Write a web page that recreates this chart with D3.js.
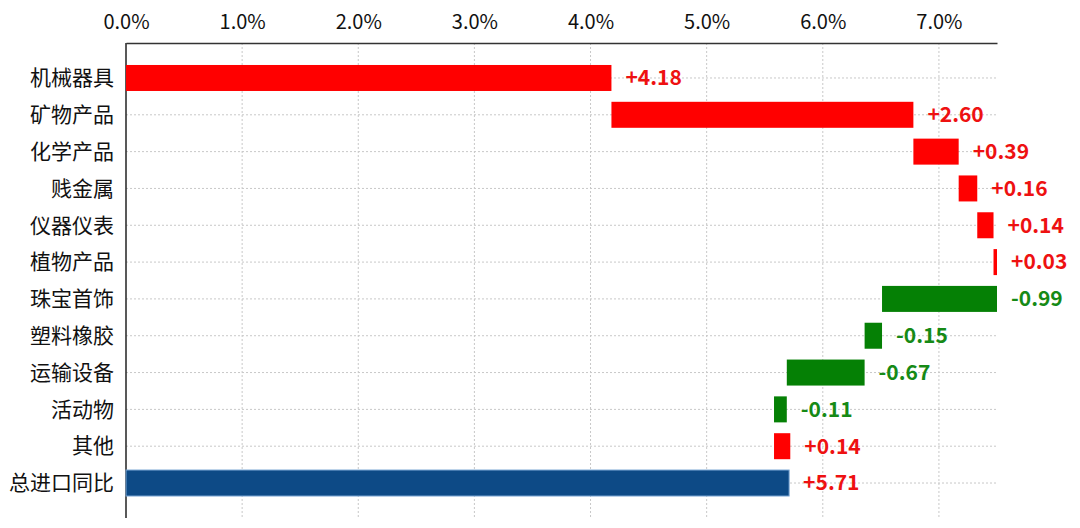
<!DOCTYPE html>
<html><head><meta charset="utf-8">
<script src="https://cdn.jsdelivr.net/npm/d3@7"></script>
<style>
html,body{margin:0;padding:0;background:#fff;}
svg{display:block;}
</style></head>
<body>
<svg id="chart" width="1080" height="528"></svg>
<script>
const categories = ["机械器具","矿物产品","化学产品","贱金属","仪器仪表","植物产品","珠宝首饰","塑料橡胶","运输设备","活动物","其他","总进口同比"];
const contributions = [4.18, 2.60, 0.39, 0.16, 0.14, 0.03, -0.99, -0.15, -0.67, -0.11, 0.14, 5.71];
const tickValues = [0,1,2,3,4,5,6,7];
const tickLabels = ["0.0%","1.0%","2.0%","3.0%","4.0%","5.0%","6.0%","7.0%"];

(function(){
const svg = d3.select("#chart");
const mLeft = 126, mRight = 997, mTop = 43, mBottom = 518;
const x = d3.scaleLinear().domain([0, 7.5]).range([mLeft, mRight]);
const y = d3.scalePoint().domain(categories).range([mTop, mBottom]).padding(0.95);
const barH = 26;

let cum = 0;
const rows = categories.map((c, i) => {
  const v = contributions[i];
  let start, end, type;
  if (i === categories.length - 1) { start = 0; end = v; type = "total"; }
  else { start = cum; end = cum + v; cum = end; type = v >= 0 ? "pos" : "neg"; }
  return {c, v, start, end, type};
});

const grid = svg.append("g");
grid.selectAll("line.v").data(tickValues.filter(d => d > 0)).enter().append("line")
  .attr("x1", d => x(d)).attr("x2", d => x(d)).attr("y1", mTop).attr("y2", mBottom)
  .attr("stroke", "#c8c8c8").attr("stroke-width", 1).attr("stroke-dasharray", "2,2");
grid.selectAll("line.h").data(categories).enter().append("line")
  .attr("x1", mLeft).attr("x2", mRight).attr("y1", d => y(d)).attr("y2", d => y(d))
  .attr("stroke", "#c8c8c8").attr("stroke-width", 1).attr("stroke-dasharray", "2,2");

const xAxis = d3.axisTop(x).tickValues(tickValues).tickFormat((d, i) => tickLabels[i]).tickSize(0).tickPadding(14);
const gx = svg.append("g").attr("transform", `translate(0,${mTop})`).call(xAxis);
gx.select(".domain").attr("stroke", "#333").attr("stroke-width", 1.5);
gx.selectAll("text").attr("font-family", "'Noto Sans CJK SC','Noto Sans',sans-serif").attr("font-size", 20).attr("fill", "#111");

const yAxis = d3.axisLeft(y).tickSize(0).tickPadding(12);
const gy = svg.append("g").attr("transform", `translate(${mLeft},0)`).call(yAxis);
gy.select(".domain").remove();
svg.append("line").attr("x1", mLeft).attr("x2", mLeft).attr("y1", mTop).attr("y2", mBottom).attr("stroke", "#222").attr("stroke-width", 1.5);
gy.selectAll("text").attr("font-family", "'Noto Sans CJK SC','Noto Sans',sans-serif").attr("font-size", 21).attr("fill", "#111");

const fillColor = {pos: "#ff0000", neg: "#058005", total: "#0d4a86"};
const textColor = {pos: "#ee1111", neg: "#168a16", total: "#ee1111"};

svg.append("g").selectAll("rect").data(rows).enter().append("rect")
  .attr("x", d => x(Math.min(d.start, d.end)))
  .attr("width", d => Math.max(2, Math.abs(x(d.end) - x(d.start))))
  .attr("y", d => y(d.c) - barH / 2)
  .attr("height", barH)
  .attr("fill", d => fillColor[d.type])
  .attr("stroke", d => d.type === "total" ? "#7aa6d4" : "none")
  .attr("stroke-width", d => d.type === "total" ? 1 : 0);

svg.append("g").selectAll("text").data(rows).enter().append("text")
  .attr("x", d => x(Math.max(d.start, d.end)) + 14)
  .attr("y", d => y(d.c))
  .attr("dy", "0.35em")
  .attr("font-family", "'Noto Sans CJK SC','Open Sans',sans-serif")
  .attr("font-weight", "bold")
  .attr("font-size", 21)
  .attr("fill", d => textColor[d.type])
  .text(d => (d.v >= 0 ? "+" : "") + d.v.toFixed(2));
})();
</script>
</body></html>
